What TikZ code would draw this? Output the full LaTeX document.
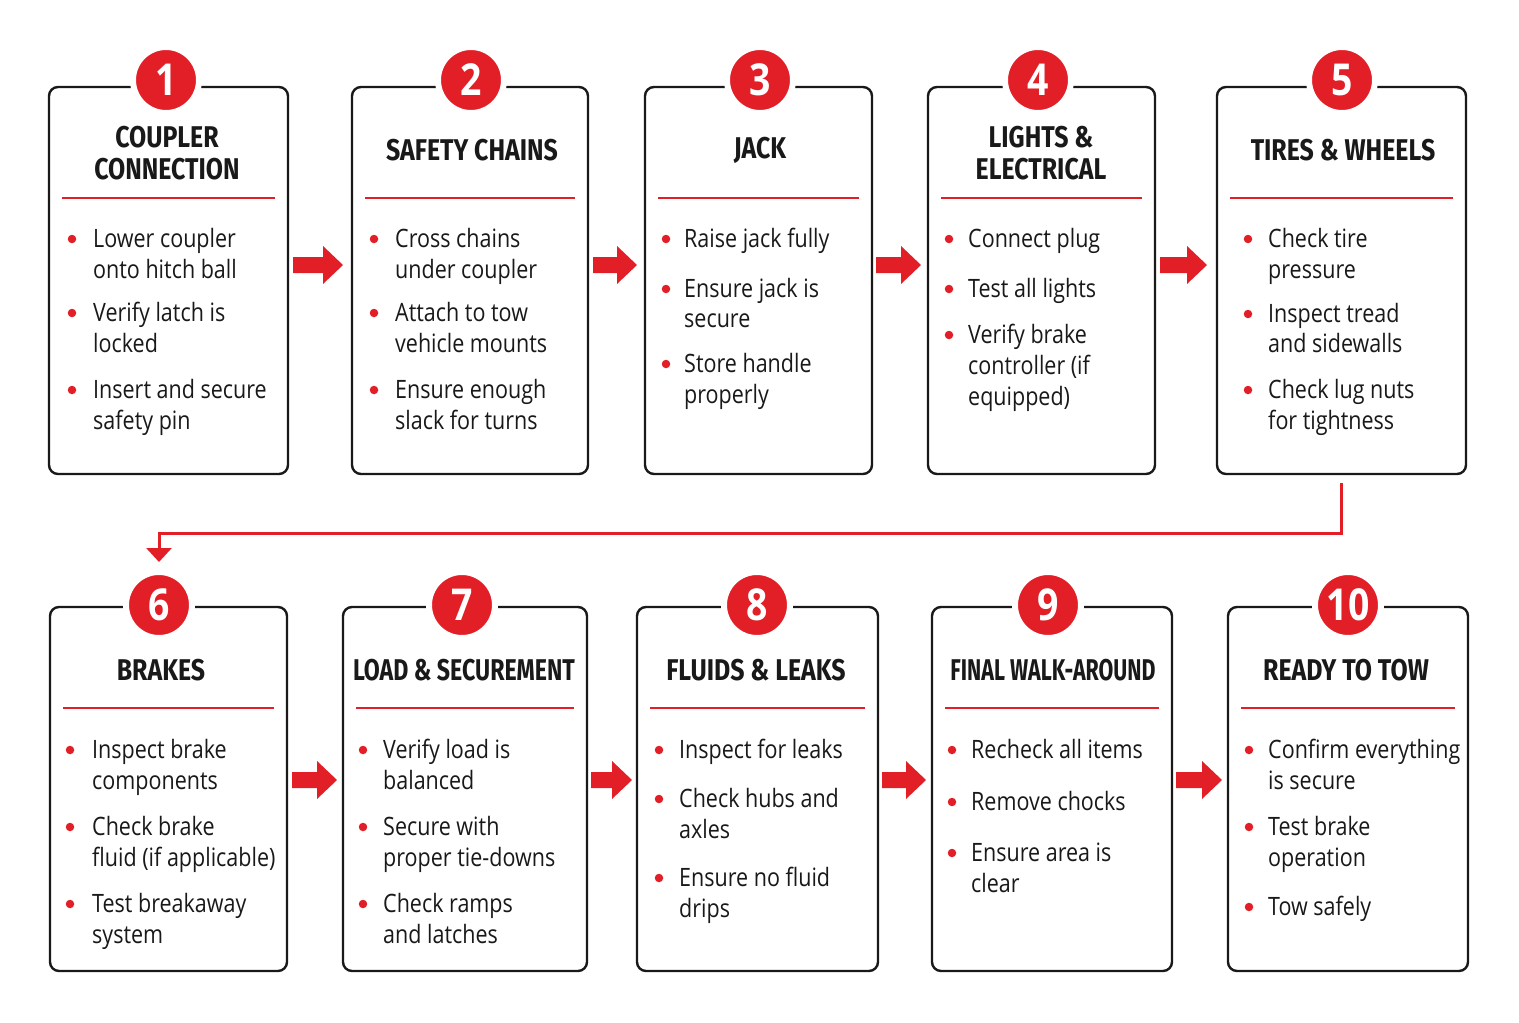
\documentclass[tikz,border=0pt]{standalone}
\usepackage{fontspec}
\setmainfont{Open Sans}[FakeStretch=0.85]
\newfontfamily\titlefont{Fira Sans}[FakeStretch=0.83]
\newfontfamily\numfont{Open Sans}[FakeStretch=0.85]
\usetikzlibrary{arrows.meta,calc}
\definecolor{tred}{RGB}{226,30,38}
\definecolor{ink}{RGB}{25,25,25}
\newcounter{ln}
\newcommand\dotat[2]{\stepcounter{ln}\node[bdot] (d\theln) at (#1,#2) {};}
\newcommand\lineat[3]{\stepcounter{ln}\node[txt] (t\theln) at (#1,#2) {#3};}
\newcommand\barrow[3]{\fill[tred] (#1,#3-8) -- (#2-20,#3-8) -- (#2-20,#3-19) -- (#2,#3) -- (#2-20,#3+19) -- (#2-20,#3+8) -- (#1,#3+8) -- cycle;}
\begin{document}
\begin{tikzpicture}[x=1pt,y=-1pt,
 box/.style={draw=ink, line width=2.4pt, rounded corners=9pt, fill=white, inner sep=0pt},
 num/.style={circle, fill=tred, draw=white, line width=6pt, minimum size=66pt, inner sep=0pt, text=white, font=\numfont\bfseries\fontsize{44}{44}\selectfont},
 ttl/.style={font=\titlefont\bfseries\fontsize{30}{32}\selectfont, align=center, text=ink, inner sep=0pt},
 txt/.style={anchor=mid west, yshift=-7pt, font=\fontsize{25.3}{25.3}\selectfont, text=ink, inner sep=0pt},
 bdot/.style={circle, fill=tred, minimum size=8.5pt, inner sep=0pt, yshift=-1pt},
 rulel/.style={draw=tred, line width=2.6pt},
 conn/.style={draw=tred, line width=3pt, -{Triangle[width=25pt,length=14pt]}}]
\fill[white] (0,0) rectangle (1519,1023);
\useasboundingbox (0,0) rectangle (1519,1023);
% boxes row 1
\node[box, minimum width=239pt, minimum height=387pt] (b1) at (168.5,280.5) {};
\node[box, minimum width=236pt, minimum height=387pt] (b2) at (470,280.5) {};
\node[box, minimum width=227pt, minimum height=387pt] (b3) at (758.5,280.5) {};
\node[box, minimum width=227pt, minimum height=387pt] (b4) at (1041.5,280.5) {};
\node[box, minimum width=249pt, minimum height=387pt] (b5) at (1341.5,280.5) {};
% boxes row 2
\node[box, minimum width=237pt, minimum height=364pt] (b6) at (168.5,789) {};
\node[box, minimum width=244pt, minimum height=364pt] (b7) at (465,789) {};
\node[box, minimum width=241pt, minimum height=364pt] (b8) at (757.5,789) {};
\node[box, minimum width=240pt, minimum height=364pt] (b9) at (1052,789) {};
\node[box, minimum width=240pt, minimum height=364pt] (b10) at (1348,789) {};
% numbers
\node[num] (c1) at (166,80) {1};
\node[num] (c2) at (471,80) {2};
\node[num] (c3) at (760,80) {3};
\node[num] (c4) at (1038,80) {4};
\node[num] (c5) at (1342,80) {5};
\node[num] (c6) at (159,605) {6};
\node[num] (c7) at (462,605) {7};
\node[num] (c8) at (757,605) {8};
\node[num] (c9) at (1048,605) {9};
\node[num] (c10) at (1348,605) {10};
% titles
\node[ttl] (h1) at (167,153) {COUPLER\\CONNECTION};
\node[ttl] (h2) at (472,150) {SAFETY CHAINS};
\node[ttl] (h3) at (760,150) {JACK};
\node[ttl] (h4) at (1041,153) {LIGHTS \&\\ELECTRICAL};
\node[ttl] (h5) at (1343,150) {TIRES \& WHEELS};
\node[ttl] (h6) at (161,670) {BRAKES};
\node[ttl] (h7) at (464,670) {\scalebox{0.93}[1]{LOAD \& SECUREMENT}};
\node[ttl] (h8) at (756,670) {FLUIDS \& LEAKS};
\node[ttl] (h9) at (1053,670) {\scalebox{0.86}[1]{FINAL WALK-AROUND}};
\node[ttl] (h10) at (1346,670) {READY TO TOW};
% rules
\draw[rulel] (62,198) -- (275,198);
\draw[rulel] (365,198) -- (575,198);
\draw[rulel] (658,198) -- (859,198);
\draw[rulel] (941,198) -- (1142,198);
\draw[rulel] (1230,198) -- (1453,198);
\draw[rulel] (63,708) -- (274,708);
\draw[rulel] (356,708) -- (574,708);
\draw[rulel] (650,708) -- (865,708);
\draw[rulel] (945,708) -- (1159,708);
\draw[rulel] (1241,708) -- (1455,708);
% box 1
\dotat{72}{238}\lineat{93}{238}{Lower coupler}\lineat{93}{269}{onto hitch ball}
\dotat{72}{312}\lineat{93}{312}{Verify latch is}\lineat{93}{343}{locked}
\dotat{72}{389}\lineat{93}{389}{Insert and secure}\lineat{93}{420}{safety pin}
% box 2
\dotat{374}{238}\lineat{395}{238}{Cross chains}\lineat{395}{269}{under coupler}
\dotat{374}{312}\lineat{395}{312}{Attach to tow}\lineat{395}{343}{vehicle mounts}
\dotat{374}{389}\lineat{395}{389}{Ensure enough}\lineat{395}{420}{slack for turns}
% box 3
\dotat{666}{238}\lineat{684}{238}{Raise jack fully}
\dotat{666}{288}\lineat{684}{288}{Ensure jack is}\lineat{684}{318}{secure}
\dotat{666}{363}\lineat{684}{363}{Store handle}\lineat{684}{394}{properly}
% box 4
\dotat{949}{238}\lineat{968}{238}{Connect plug}
\dotat{949}{288}\lineat{968}{288}{Test all lights}
\dotat{949}{334}\lineat{968}{334}{Verify brake}\lineat{968}{365}{controller (if}\lineat{968}{396}{equipped)}
% box 5
\dotat{1248}{238}\lineat{1268}{238}{Check tire}\lineat{1268}{269}{pressure}
\dotat{1248}{313}\lineat{1268}{313}{Inspect tread}\lineat{1268}{343}{and sidewalls}
\dotat{1248}{389}\lineat{1268}{389}{Check lug nuts}\lineat{1268}{420}{for tightness}
% box 6
\dotat{70}{749}\lineat{92}{749}{Inspect brake}\lineat{92}{780}{components}
\dotat{70}{826}\lineat{92}{826}{Check brake}\lineat{92}{857}{fluid (if applicable)}
\dotat{70}{903}\lineat{92}{903}{Test breakaway}\lineat{92}{934}{system}
% box 7
\dotat{363}{749}\lineat{383}{749}{Verify load is}\lineat{383}{780}{balanced}
\dotat{363}{826}\lineat{383}{826}{Secure with}\lineat{383}{857}{proper tie-downs}
\dotat{363}{903}\lineat{383}{903}{Check ramps}\lineat{383}{934}{and latches}
% box 8
\dotat{659}{749}\lineat{679}{749}{Inspect for leaks}
\dotat{659}{798}\lineat{679}{798}{Check hubs and}\lineat{679}{829}{axles}
\dotat{659}{877}\lineat{679}{877}{Ensure no fluid}\lineat{679}{908}{drips}
% box 9
\dotat{952}{749}\lineat{971}{749}{Recheck all items}
\dotat{952}{801}\lineat{971}{801}{Remove chocks}
\dotat{952}{852}\lineat{971}{852}{Ensure area is}\lineat{971}{883}{clear}
% box 10
\dotat{1249}{749}\lineat{1268}{749}{Confirm everything}\lineat{1268}{780}{is secure}
\dotat{1249}{826}\lineat{1268}{826}{Test brake}\lineat{1268}{857}{operation}
\dotat{1249}{906}\lineat{1268}{906}{Tow safely}
% block arrows
\barrow{293}{343}{265}
\barrow{593}{637}{265}
\barrow{876}{921}{265}
\barrow{1160}{1207}{265}
\barrow{292}{337}{780}
\barrow{591}{632}{780}
\barrow{882}{926}{780}
\barrow{1176}{1222}{780}
% connector
\coordinate (bend) at (750,533);
\draw[conn] ([yshift=-8pt]b5.south) |- (bend) -| ([yshift=7pt]c6.north);
\end{tikzpicture}
\end{document}
